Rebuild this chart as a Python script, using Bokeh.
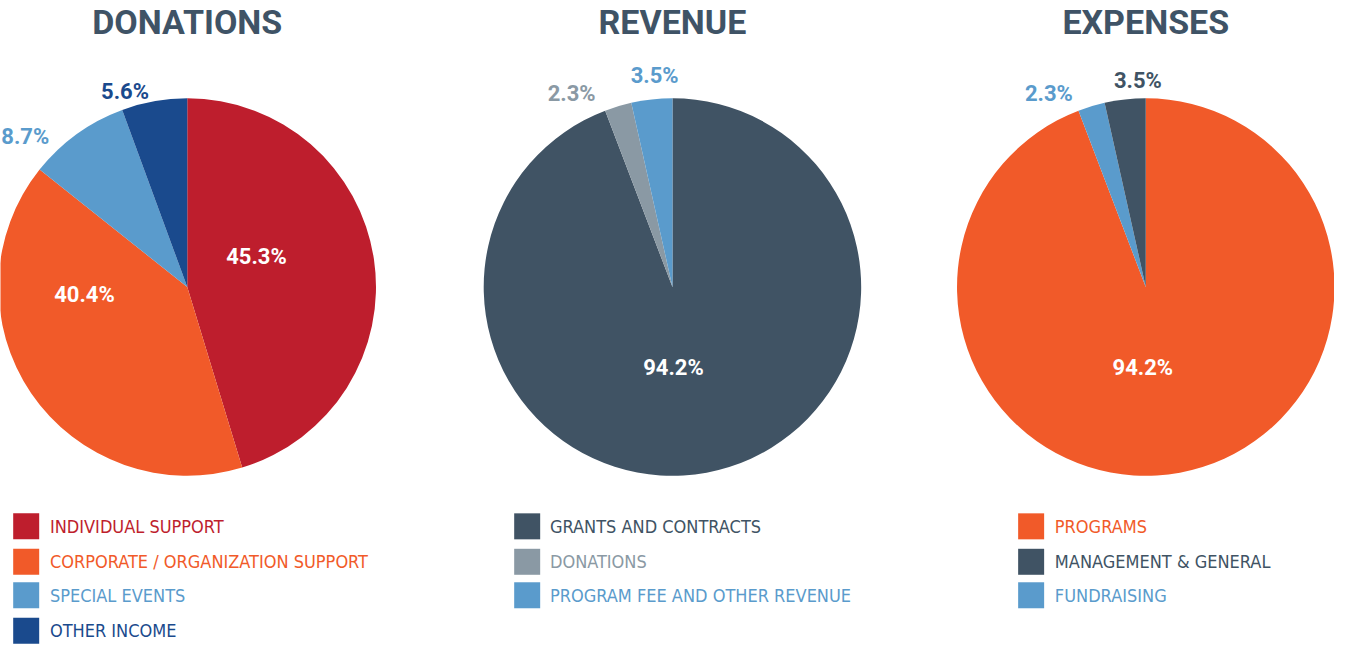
import math
from bokeh.plotting import figure
from bokeh.models import Range1d, ColumnDataSource
from bokeh.core.properties import value
from bokeh.embed import file_html
from bokeh.resources import INLINE

# ---------------- data ----------------
titles = ["DONATIONS", "REVENUE", "EXPENSES"]

don_categories = ["INDIVIDUAL SUPPORT", "CORPORATE / ORGANIZATION SUPPORT", "SPECIAL EVENTS", "OTHER INCOME"]
don_values = [45.3, 40.4, 8.7, 5.6]

rev_categories = ["GRANTS AND CONTRACTS", "DONATIONS", "PROGRAM FEE AND OTHER REVENUE"]
rev_values = [94.2, 2.3, 3.5]

exp_categories = ["PROGRAMS", "FUNDRAISING", "MANAGEMENT & GENERAL"]
exp_values = [94.2, 2.3, 3.5]
exp_legend_order = ["PROGRAMS", "MANAGEMENT & GENERAL", "FUNDRAISING"]

# ---------------- styles / layout ----------------
RED = "#BE1E2D"
ORANGE = "#F15A29"
LBLUE = "#5A9BCC"
NAVY = "#1A4A8D"
SLATE = "#405364"
GRAY = "#8A99A4"
TITLE = "#3F5366"

don_colors = [RED, ORANGE, LBLUE, NAVY]
rev_colors = [SLATE, GRAY, LBLUE]
exp_colors = [ORANGE, LBLUE, SLATE]

# label offsets (reference px, y downward) and inside/outside flag
don_lab = [(70, -31, True), (-104, 8, True), (-164, -153, False), (-63, -199, False)]
rev_lab = [(1, 82, True), (-102, -197, False), (-18, -215, False)]
exp_lab = [(-3, 82, True), (-98, -197, False), (-8, -210, False)]

LEGEND_FONT = "'Liberation Sans Narrow', 'Noto Sans Condensed', 'DejaVu Sans Condensed', 'Roboto Condensed', Roboto, sans-serif"

H = 660
W = 1350
centers_x = [189, 680, 1159]
center_y = 293
R = 191
legend_sq_x = [26, 533, 1043]
legend_txt_x = [50, 556, 1067]
legend_rows = [[536, 572, 606, 642], [536, 572, 606], [536, 572, 606]]

p = figure(width=1334, height=644, x_range=Range1d(0, W), y_range=Range1d(H - 656, H - 2),
           output_backend="svg", toolbar_location=None, min_border=0)
p.axis.visible = False
p.grid.visible = False
p.outline_line_color = None
p.background_fill_color = "white"
p.border_fill_color = "white"

pies = [
    (don_categories, don_values, don_colors, don_lab, don_categories),
    (rev_categories, rev_values, rev_colors, rev_lab, rev_categories),
    (exp_categories, exp_values, exp_colors, exp_lab, exp_legend_order),
]

for i, (cats, vals, cols, labs, legend_order) in enumerate(pies):
    cx = centers_x[i]
    cy = H - center_y
    total = sum(vals)
    starts, ends = [], []
    cum = 0.0
    for v in vals:
        starts.append(math.pi / 2 - 2 * math.pi * cum / total)
        cum += v
        ends.append(math.pi / 2 - 2 * math.pi * cum / total)
    src = ColumnDataSource(dict(x=[cx] * len(vals), y=[cy] * len(vals), start=starts, end=ends,
                                color=cols, cat=cats, val=vals))
    p.wedge(x="x", y="y", radius=R, start_angle="start", end_angle="end", direction="clock",
            fill_color="color", line_color=None, source=src)

    # percentage labels
    lx = [cx + d[0] for d in labs]
    ly = [cy - d[1] for d in labs]
    ltxt = [f"{v:.1f}%" for v in vals]
    lcol = ["white" if d[2] else c for d, c in zip(labs, cols)]
    p.text(x=lx, y=ly, text=ltxt, text_color=lcol, text_align="center", text_baseline="middle",
           text_font=value("Roboto"), text_font_size="22px", text_font_style="bold")

    # title
    p.text(x=[cx], y=[H - 24], text=[titles[i]], text_color=TITLE, text_align="center",
           text_baseline="middle", text_font=value("Roboto"), text_font_size="34px",
           text_font_style="bold")

    # legend
    color_of = dict(zip(cats, cols))
    rows = legend_rows[i]
    sx = [legend_sq_x[i]] * len(legend_order)
    sy = [H - r for r in rows]
    lc = [color_of[c] for c in legend_order]
    p.rect(x=sx, y=sy, width=26, height=26, width_units="screen", height_units="screen",
           fill_color=lc, line_color=None)
    p.text(x=[legend_txt_x[i]] * len(legend_order), y=sy, text=legend_order, text_color=lc,
           text_align="left", text_baseline="middle", text_font=value(LEGEND_FONT),
           text_font_size="18px")

open("out.html", "w").write(file_html(p, INLINE))
